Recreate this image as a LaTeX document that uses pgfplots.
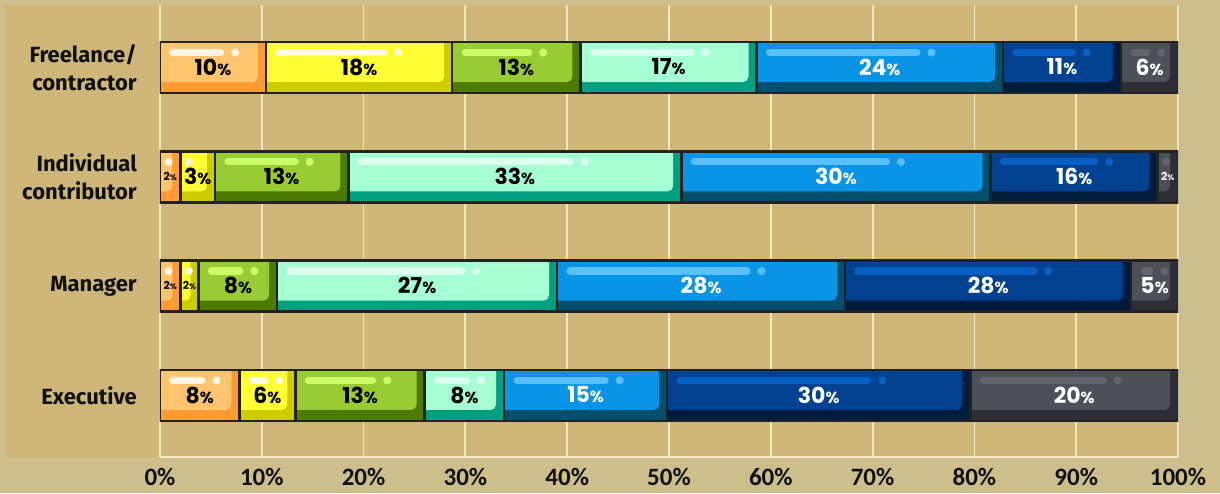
\documentclass[border=0pt]{standalone}
\usepackage{pgfplots}
\usepackage{pgfplotstable}
\pgfplotsset{compat=1.18}
\usepackage{fontspec}
\setmainfont{Carlito}
\newfontfamily\catfont{Fira Sans}
\newfontfamily\barfont{Poppins}

\definecolor{bgout}{HTML}{CDBE8C}
\definecolor{bgin}{HTML}{CFB77A}
\definecolor{gridc}{HTML}{F2E6C4}
\definecolor{olc}{HTML}{222222}
\definecolor{txtc}{HTML}{111111}
% light / dark / highlight / text per segment
\definecolor{lta}{HTML}{FFC46E}\definecolor{dka}{HTML}{FF9B35}\definecolor{hla}{HTML}{FFF5E6}\colorlet{txa}{black}
\definecolor{ltb}{HTML}{FFFF33}\definecolor{dkb}{HTML}{CCCC00}\definecolor{hlb}{HTML}{FFFCE0}\colorlet{txb}{black}
\definecolor{ltc}{HTML}{99CC33}\definecolor{dkc}{HTML}{4D7A00}\definecolor{hlc}{HTML}{CCFF66}\colorlet{txc}{black}
\definecolor{ltd}{HTML}{A6FFD4}\definecolor{dkd}{HTML}{00A080}\definecolor{hld}{HTML}{DDFFF0}\colorlet{txd}{black}
\definecolor{lte}{HTML}{0A94E5}\definecolor{dke}{HTML}{054F6E}\definecolor{hle}{HTML}{5ABFFF}\colorlet{txe}{white}
\definecolor{ltf}{HTML}{00428F}\definecolor{dkf}{HTML}{011B3C}\definecolor{hlf}{HTML}{0A5FC2}\colorlet{txf}{white}
\definecolor{ltg}{HTML}{4C5058}\definecolor{dkg}{HTML}{2D2F35}\definecolor{hlg}{HTML}{62656D}\colorlet{txg}{white}

% shares and printed labels
\pgfplotstableread{
y a b c d e f g
3 10.4 18.3 12.6 17.3 24.2 11.6 5.6
2 2.0 3.4 13.1 32.7 30.4 16.4 2.0
1 2.0 1.8 7.7 27.5 28.3 28.1 4.6
0 7.8 5.5 12.7 7.8 16.0 29.8 20.4
}\data
\pgfplotstableread{
y a b c d e f g
3 10 18 13 17 24 11 6
2 2 3 13 33 30 16 2
1 2 2 8 27 28 28 5
0 8 6 13 8 15 30 20
}\labels

\begin{document}
\begin{tikzpicture}
\useasboundingbox (-160pt,-36pt) rectangle (1060pt,457pt);
\fill[bgout] (-160pt,-36pt) rectangle (1060pt,457pt);
\fill[bgin] (-155pt,0pt) rectangle (1020pt,452pt);
\begin{axis}[
    scale only axis,
    width=1018pt, height=452pt,
    xmin=0, xmax=100,
    ymin=-0.563, ymax=3.572,
    xbar stacked,
    bar width=51pt,
    xtick={0,10,...,100},
    xticklabels={0\%,10\%,20\%,30\%,40\%,50\%,60\%,70\%,80\%,90\%,100\%},
    ytick={0,1,2,3},
    yticklabels={Executive,Manager,{Individual\\contributor},{Freelance/\\contractor}},
    major tick length=0pt,
    xmajorgrids,
    major grid style={draw=gridc, line width=1.8pt},
    axis x line*=bottom,
    axis y line*=left,
    x axis line style={draw=gridc, line width=1.8pt},
    y axis line style={draw=none},
    xticklabel style={font=\bfseries\fontsize{25}{25}\selectfont, text=txtc, inner sep=0pt, yshift=-11pt},
    yticklabel style={font=\catfont\bfseries\fontsize{22}{28}\selectfont, text=txtc, align=right, inner sep=0pt, xshift=-23pt},
]
% cartoon shading, highlights and labels for each segment
\pgfplotsextra{%
\foreach \rr in {0,...,3}{%
  \xdef\acc{0}%
  \foreach \cc in {a,b,c,d,e,f,g}{%
    \pgfplotstablegetelem{\rr}{y}\of\data \let\yy\pgfplotsretval
    \pgfplotstablegetelem{\rr}{\cc}\of\data \let\vv\pgfplotsretval
    \pgfplotstablegetelem{\rr}{\cc}\of\labels \let\lab\pgfplotsretval
    \pgfmathsetmacro\ss{\acc}%
    \pgfmathsetmacro\ee{\acc+\vv}%
    \xdef\acc{\ee}%
    \pgfmathsetmacro\mm{(\ss+\ee)/2}%
    \pgfmathsetmacro\dd{\ss+0.71*\vv}%
    \pgfmathtruncatemacro\isbig{\vv>=4}%
    \pgfmathtruncatemacro\issmall{\vv<2.6}%
    \fill[dk\cc] ([yshift=25.5pt]axis cs:\ss,\yy) rectangle ([yshift=-25.5pt]axis cs:\ee,\yy);
    \fill[lt\cc] ([yshift=25.5pt]axis cs:\ss,\yy) -- ([shift={(-8pt,25.5pt)}]axis cs:\ee,\yy)
      -- ([shift={(-8pt,-9pt)}]axis cs:\ee,\yy) arc[start angle=0, end angle=-90, radius=5.5pt]
      -- ([yshift=-14.5pt]axis cs:\ss,\yy) -- cycle;
    \ifnum\isbig=1
      \draw[hl\cc, line width=7.3pt, line cap=round] ([shift={(13pt,15pt)}]axis cs:\ss,\yy) -- ([shift={(-14.6pt,15pt)}]axis cs:\dd,\yy);
      \fill[hl\cc] ([yshift=15pt]axis cs:\dd,\yy) circle[radius=4pt];
    \else
      \fill[hl\cc] ([shift={(8.5pt,15pt)}]axis cs:\ss,\yy) circle[radius=4pt];
    \fi
    \draw[olc, line width=2.6pt] ([yshift=25.5pt]axis cs:\ss,\yy) rectangle ([yshift=-25.5pt]axis cs:\ee,\yy);
    \ifnum\issmall=1
      \node[text=tx\cc, inner sep=0pt, font=\barfont\bfseries\fontsize{11}{11}\selectfont] at ([yshift=0.5pt]axis cs:\mm,\yy) {\lab{\fontsize{8}{8}\selectfont\%}};
    \else
      \node[text=tx\cc, inner sep=0pt, font=\barfont\bfseries\fontsize{22}{22}\selectfont] at ([yshift=0.5pt]axis cs:\mm,\yy) {\lab{\fontsize{16}{16}\selectfont\%}};
    \fi
  }%
}}
\addplot[fill=none, draw=olc, line width=2.6pt] table[x=a, y=y]{\data};
\addplot[fill=none, draw=olc, line width=2.6pt] table[x=b, y=y]{\data};
\addplot[fill=none, draw=olc, line width=2.6pt] table[x=c, y=y]{\data};
\addplot[fill=none, draw=olc, line width=2.6pt] table[x=d, y=y]{\data};
\addplot[fill=none, draw=olc, line width=2.6pt] table[x=e, y=y]{\data};
\addplot[fill=none, draw=olc, line width=2.6pt] table[x=f, y=y]{\data};
\addplot[fill=none, draw=olc, line width=2.6pt] table[x=g, y=y]{\data};
\end{axis}
\end{tikzpicture}
\end{document}
